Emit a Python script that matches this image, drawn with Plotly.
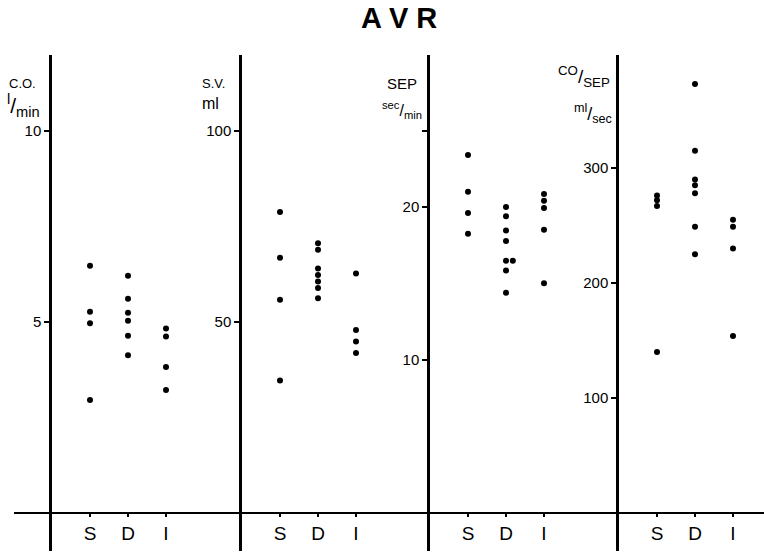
import plotly.graph_objects as go

W, H = 764, 553

categories = ["S", "D", "I"]

# C.O. (l/min)
co_S = [6.47, 5.27, 4.97, 2.96]
co_D = [6.21, 5.61, 5.24, 5.03, 4.64, 4.13]
co_I = [4.83, 4.62, 3.82, 3.22]

# S.V. (ml)
sv_S = [78.8, 66.8, 55.8, 34.7]
sv_D = [70.6, 68.9, 64.0, 62.3, 60.6, 58.9, 56.2]
sv_I = [62.7, 47.9, 44.9, 41.9]

# SEP (sec/min)
sep_S = [23.4, 21.0, 19.6, 18.25]
sep_D = [20.0, 19.4, 18.47, 17.77, 16.48, 16.48, 15.85, 14.39]
sep_I = [20.85, 20.41, 19.93, 18.51, 15.02]

# CO/SEP (ml/sec)
cs_S = [276, 272, 267, 140]
cs_D = [373, 315, 290, 285, 278, 249, 225]
cs_I = [255, 249, 230, 154]

panels = [
    dict(data=[co_S, co_D, co_I], ticks=[5, 10], ticktext=["5", "10"],
         ppu=38.2, xdom=(52, 242)),
    dict(data=[sv_S, sv_D, sv_I], ticks=[50, 100], ticktext=["50", "100"],
         ppu=3.82, xdom=(242, 430)),
    dict(data=[sep_S, sep_D, sep_I], ticks=[10, 20, 25], ticktext=["10", "20", " "],
         ppu=15.3, xdom=(430, 619)),
    dict(data=[cs_S, cs_D, cs_I], ticks=[100, 200, 300], ticktext=["100", "200", "300"],
         ppu=1.15, xdom=(619, 764)),
]

ZERO_PX, TOP_PX, BOT_PX = 513, 55, 551
CAT_PX = 38.0

fig = go.Figure()
font = "Liberation Sans, Arial, sans-serif"

for i, p in enumerate(panels):
    n = i + 1
    xs, ys = [], []
    for ci, vals in enumerate(p["data"]):
        seen = {}
        for v in vals:
            k = seen.get(v, 0)
            seen[v] = k + 1
            xs.append(ci + 1 + 0.18 * k)
            ys.append(v)
    fig.add_trace(go.Scatter(
        x=xs, y=ys, mode="markers",
        marker=dict(color="black", size=6),
        xaxis=f"x{n}", yaxis=f"y{n}", showlegend=False, hoverinfo="skip"))
    x0, x1 = p["xdom"]
    width_units = (x1 - x0) / CAT_PX
    ymax = (ZERO_PX - TOP_PX) / p["ppu"]
    ymin = -(BOT_PX - ZERO_PX) / p["ppu"]
    fig.update_layout(**{
        f"xaxis{n}": dict(
            domain=[x0 / W, x1 / W], range=[0, width_units],
            anchor="free", position=1 - ZERO_PX / H,
            tickvals=[1, 2, 3], ticktext=categories,
            ticks="outside", ticklen=3, tickwidth=1.5, tickcolor="black",
            showline=False, showgrid=False, zeroline=False,
            tickfont=dict(size=19, color="black", family=font)),
        f"yaxis{n}": dict(
            domain=[1 - BOT_PX / H, 1 - TOP_PX / H], range=[ymin, ymax],
            anchor=f"x{n}", showline=True, linecolor="black", linewidth=2.5,
            tickvals=p["ticks"], ticktext=p["ticktext"],
            ticks="outside", ticklen=5, tickwidth=1.5, tickcolor="black",
            showgrid=False, zeroline=False,
            tickfont=dict(size=15, color="black", family=font)),
    })

# baseline across all panels at value 0
fig.add_shape(type="line", xref="paper", yref="y", x0=14 / W, x1=1, y0=0, y1=0,
              line=dict(color="black", width=2))

def ann(text, x, y, size, xanchor="left"):
    fig.add_annotation(text=text, x=x / W, y=1 - y / H, xref="paper", yref="paper",
                       showarrow=False, xanchor=xanchor, yanchor="middle",
                       font=dict(size=size, color="black", family=font))

ann("<b>A V R</b>", 399, 18, 29, xanchor="center")

ann("C.O.", 7, 83, 13)
ann("<sup>l</sup>/<sub>min</sub>", 5, 106, 21)
ann("S.V.", 200, 83, 13)
ann("ml", 200, 103, 16)
ann("SEP", 385, 83, 15)
ann("<sup>sec</sup>/<sub>min</sub>", 380, 110, 16)
ann("<sup>CO</sup>/<sub>SEP</sub>", 612, 76, 19, xanchor="right")
ann("<sup>ml</sup>/<sub>sec</sub>", 614, 113, 18, xanchor="right")

fig.update_layout(width=W, height=H, margin=dict(l=0, r=0, t=0, b=0),
                  paper_bgcolor="white", plot_bgcolor="white", showlegend=False)

fig.write_html("out.html")
